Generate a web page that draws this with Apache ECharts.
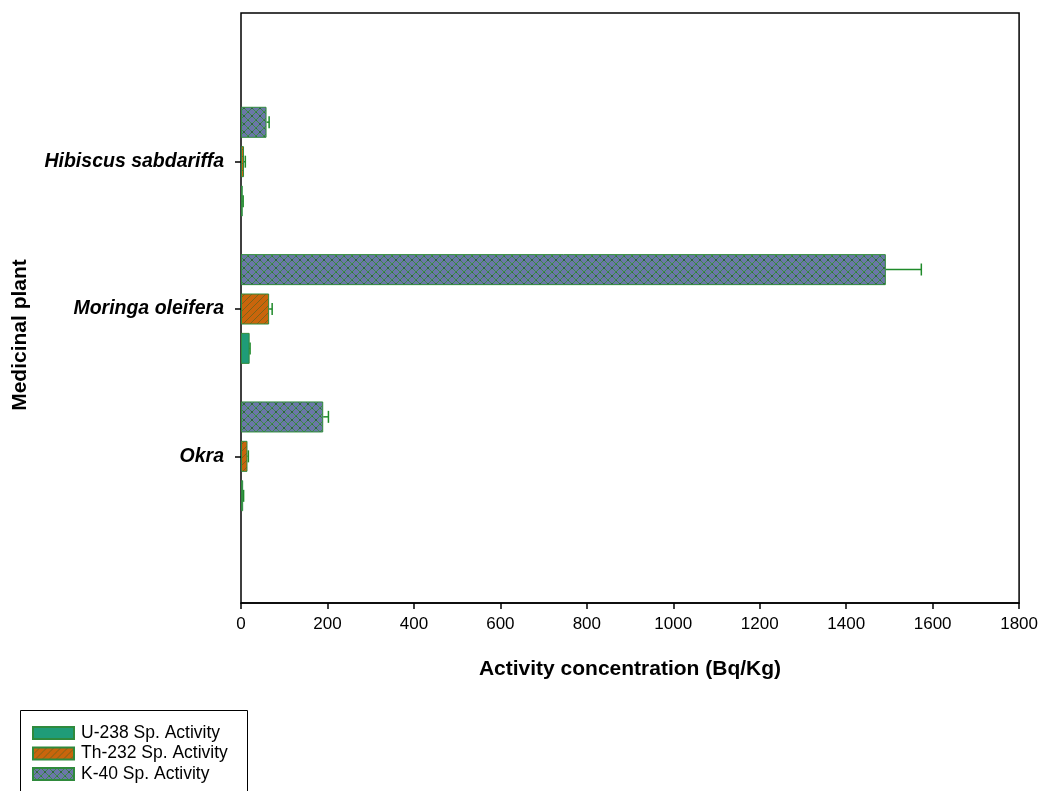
<!DOCTYPE html>
<html>
<head>
<meta charset="utf-8">
<title>Activity concentration in medicinal plants</title>
<script src="https://cdn.jsdelivr.net/npm/echarts@6/dist/echarts.min.js"></script>
<style>
  html, body { margin: 0; padding: 0; background: #fff; }
  #chart { width: 1041px; height: 791px; }
</style>
</head>
<body>
<div id="chart"></div>
<script>
// Plants, bottom to top along the category axis
const plants = ['Okra', 'Moringa oleifera', 'Hibiscus sabdariffa'];

// Specific activities (Bq/Kg) and their errors, one entry per plant
const u238 = [5, 20, 4];
const u238Err = [1, 1, 1];
const th232 = [15, 65, 7];
const th232Err = [2, 7, 3];
const k40 = [190, 1490, 59];
const k40Err = [12, 82, 6];

const seriesNames = ['U-238 Sp. Activity', 'Th-232 Sp. Activity', 'K-40 Sp. Activity'];

const FONT = '"Liberation Sans", Arial, sans-serif';
const EDGE = '#2f8a3c';
const ERR = '#1f8a2a';

// Fill textures drawn on small canvases and tiled inside the bars
function texture(size, bg, line, kind) {
  const c = document.createElement('canvas');
  c.width = c.height = size;
  const g = c.getContext('2d');
  g.fillStyle = bg;
  g.fillRect(0, 0, size, size);
  g.strokeStyle = line;
  g.lineWidth = 1;
  const diag = (x0, y0, x1, y1) => { g.beginPath(); g.moveTo(x0, y0); g.lineTo(x1, y1); g.stroke(); };
  // rising diagonals "/"
  diag(-1, size + 1, size + 1, -1);
  diag(-1, 1, 1, -1);
  diag(size - 1, size + 1, size + 1, size - 1);
  if (kind === 'cross') {
    // falling diagonals "\"
    diag(-1, -1, size + 1, size + 1);
    diag(size - 1, -1, size + 1, 1);
    diag(-1, size - 1, 1, size + 1);
    g.fillStyle = '#2e6a3a';
    g.fillRect(size / 2 - 1, size / 2 - 1, 2, 2);
    g.fillRect(0, 0, 1, 1);
  }
  return { image: c, repeat: 'repeat' };
}

const fills = [
  '#1f9c78',
  texture(7, '#c9650c', '#7d6418', 'single'),
  texture(8, '#6a77a8', '#3b8d45', 'cross')
];

const values = [u238, th232, k40];
const errors = [u238Err, th232Err, k40Err];
// bar centre offset (px) from the category centre: U-238 lowest, K-40 highest
const BAR_W = 31;
const STEP = 39.5;
const offsets = [STEP, 0, -STEP];

const barSeries = values.map((vals, i) => ({
  name: seriesNames[i],
  type: 'bar',
  xAxisIndex: 1,
  yAxisIndex: 1,
  barWidth: BAR_W,
  barGap: '27%',
  data: vals,
  itemStyle: { color: fills[i], borderColor: EDGE, borderWidth: 1 },
  emphasis: { disabled: true },
  z: 2
})).reverse(); // the first bar series in a group is placed topmost

const errSeries = values.map((vals, i) => ({
  name: seriesNames[i],
  type: 'custom',
  xAxisIndex: 1,
  yAxisIndex: 1,
  z: 3,
  silent: true,
  data: vals.map((v, j) => [v, j, errors[i][j]]),
  renderItem: function (params, api) {
    const a = api.coord([api.value(0), api.value(1)]);
    const b = api.coord([api.value(0) + api.value(2), api.value(1)]);
    const y = a[1] + offsets[i];
    const style = { stroke: ERR, lineWidth: 1.5 };
    return {
      type: 'group',
      children: [
        { type: 'line', shape: { x1: a[0], y1: y, x2: b[0], y2: y }, style: style },
        { type: 'line', shape: { x1: b[0], y1: y - 6, x2: b[0], y2: y + 6 }, style: style }
      ]
    };
  }
}));

const chart = echarts.init(document.getElementById('chart'), null, { renderer: 'canvas' });

chart.setOption({
  animation: false,
  backgroundColor: '#fff',
  textStyle: { fontFamily: FONT },
  grid: [
    // framed plotting area with the value axis
    { left: 241, right: 21, top: 13, bottom: 188, show: true, borderColor: '#000', borderWidth: 1.5, backgroundColor: 'transparent' },
    // area holding the three plant groups
    { left: 241, right: 21, top: 88, bottom: 261 }
  ],
  xAxis: [
    {
      gridIndex: 0,
      type: 'value',
      min: 0,
      max: 1800,
      interval: 200,
      splitLine: { show: false },
      axisLine: { show: true, lineStyle: { color: '#000', width: 1.5 } },
      axisTick: { show: true, length: 6, lineStyle: { color: '#000', width: 1.5 } },
      axisLabel: { color: '#000', fontSize: 17, fontFamily: FONT, margin: 13, formatter: v => String(v) }
    },
    {
      gridIndex: 1,
      type: 'value',
      min: 0,
      max: 1800,
      show: false,
      splitLine: { show: false }
    }
  ],
  yAxis: [
    { gridIndex: 0, type: 'value', show: false, splitLine: { show: false } },
    {
      gridIndex: 1,
      type: 'category',
      data: plants,
      axisLine: { show: false },
      axisTick: { show: true, length: 6, alignWithLabel: true, lineStyle: { color: '#000', width: 1.5 } },
      axisLabel: { color: '#000', fontSize: 19.5, fontWeight: 'bold', fontStyle: 'italic', fontFamily: FONT, margin: 17 }
    }
  ],
  legend: {
    orient: 'vertical',
    left: 20,
    top: 710,
    width: 227,
    height: 120,
    data: seriesNames,
    icon: 'rect',
    itemWidth: 41,
    itemHeight: 12,
    itemGap: 2.5,
    padding: [14, 14, 2, 12],
    selectedMode: false,
    textStyle: { color: '#000', fontSize: 17.5, fontFamily: FONT, padding: [0, 0, 0, 2] }
  },
  graphic: [
    {
      // legend frame, running past the lower edge
      type: 'rect',
      shape: { x: 20.5, y: 710.5, width: 227, height: 100 },
      style: { fill: 'none', stroke: '#000', lineWidth: 1 },
      z: 10
    },
    {
      type: 'text',
      style: {
        text: 'Activity concentration (Bq/Kg)',
        font: 'bold 21px ' + FONT,
        fill: '#000',
        x: 630,
        y: 669,
        align: 'center',
        verticalAlign: 'middle'
      }
    },
    {
      type: 'text',
      rotation: Math.PI / 2,
      x: 20,
      y: 335,
      style: {
        text: 'Medicinal plant',
        font: 'bold 21px ' + FONT,
        fill: '#000',
        x: 0,
        y: 0,
        align: 'center',
        verticalAlign: 'middle'
      }
    }
  ],
  series: barSeries.concat(errSeries)
});
</script>
</body>
</html>
